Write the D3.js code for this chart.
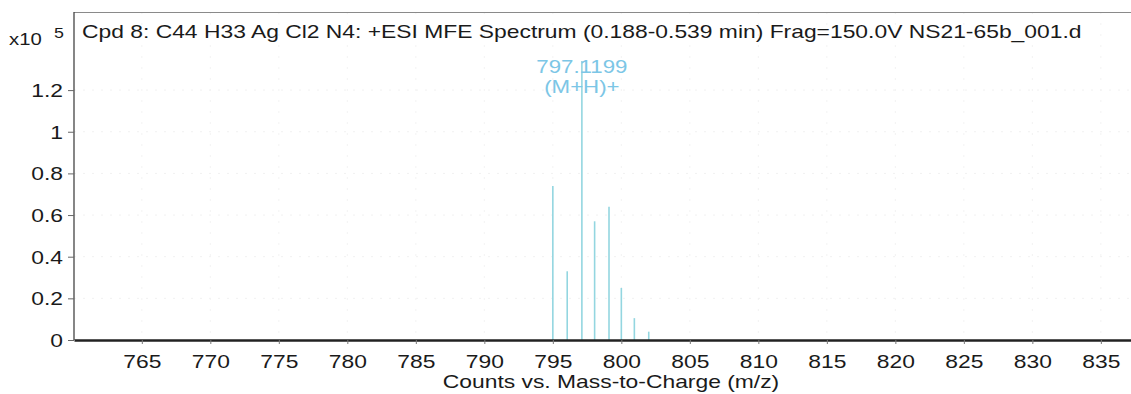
<!DOCTYPE html>
<html>
<head>
<meta charset="utf-8">
<script src="https://cdn.jsdelivr.net/npm/d3@7"></script>
<style>
  html, body { margin: 0; padding: 0; background: #fff; }
  svg { display: block; font-family: "Liberation Sans", Arial, sans-serif; }
</style>
</head>
<body>
<div id="chart"></div>
<script>
// peaks (m/z, counts x10^5)
const mzValues = [795.0, 796.05, 797.1199, 798.05, 799.1, 800.0, 800.95, 802.0];
const countValues = [0.74, 0.33, 1.34, 0.57, 0.64, 0.25, 0.105, 0.04];
const xTicks = [765, 770, 775, 780, 785, 790, 795, 800, 805, 810, 815, 820, 825, 830, 835];
const yTicks = [0, 0.2, 0.4, 0.6, 0.8, 1, 1.2];
const yTickLabels = ["0", "0.2", "0.4", "0.6", "0.8", "1", "1.2"];
const titleText = "Cpd 8: C44 H33 Ag Cl2 N4: +ESI MFE Spectrum (0.188-0.539 min) Frag=150.0V NS21-65b_001.d";
const peakLabel = ["797.1199", "(M+H)+"];
const xLabel = "Counts vs. Mass-to-Charge (m/z)";

const width = 1131, height = 394;
const margin = { top: 12, right: 0, bottom: 54, left: 74 };
const sx = 1.27; // the scan is stretched sideways, so text is too
const fs = 18;

const svg = d3.select("#chart").append("svg")
  .attr("width", width)
  .attr("height", height);

const x = d3.scaleLinear()
  .domain([760.05, 837.2])
  .range([margin.left, width - margin.right]);

const y = d3.scaleLinear()
  .domain([0, 1.575])
  .range([height - margin.bottom, margin.top]);

// stretched text helper
function label(tx, ty, str, opts = {}) {
  return svg.append("text")
    .attr("transform", `translate(${tx},${ty}) scale(${sx},1)`)
    .attr("text-anchor", opts.anchor || "start")
    .attr("font-size", opts.size || fs)
    .attr("fill", opts.fill || "#1a1a1a")
    .text(str);
}

// faint dotted grid
const grid = svg.append("g");
grid.selectAll("line.hg")
  .data(yTicks.slice(1))
  .join("line")
  .attr("x1", margin.left).attr("x2", width)
  .attr("y1", d => y(d)).attr("y2", d => y(d))
  .attr("stroke", "#f1f1f1")
  .attr("stroke-dasharray", "2,7");
grid.selectAll("line.vg")
  .data(xTicks)
  .join("line")
  .attr("x1", d => x(d)).attr("x2", d => x(d))
  .attr("y1", margin.top).attr("y2", y(0))
  .attr("stroke", "#f3f3f3")
  .attr("stroke-dasharray", "2,9");

// top border
svg.append("line")
  .attr("x1", margin.left).attr("x2", width)
  .attr("y1", margin.top + 0.5).attr("y2", margin.top + 0.5)
  .attr("stroke", "#8a8a8a")
  .attr("stroke-width", 1.2);

// peaks
svg.append("g").selectAll("line")
  .data(mzValues.map((m, i) => ({ m, c: countValues[i] })))
  .join("line")
  .attr("x1", d => x(d.m)).attr("x2", d => x(d.m))
  .attr("y1", y(0)).attr("y2", d => y(d.c))
  .attr("stroke", "#93d6e0")
  .attr("stroke-width", 1.6);

// y axis
const yAxis = svg.append("g")
  .attr("transform", `translate(${margin.left},0)`)
  .call(d3.axisLeft(y).tickValues(yTicks).tickFormat((d, i) => yTickLabels[i]).tickSize(6).tickSizeOuter(0));
yAxis.select(".domain").attr("stroke", "#444").attr("stroke-width", 1.3)
  .attr("d", `M0,${margin.top}V${y(0)}`);
yAxis.selectAll(".tick line").attr("stroke", "#666");
yAxis.selectAll(".tick text")
  .attr("font-size", fs)
  .attr("fill", "#1a1a1a")
  .attr("x", -11 / sx)
  .attr("dy", "0.35em")
  .attr("transform", `scale(${sx},1)`)
  .attr("font-family", "Liberation Sans, Arial, sans-serif");

// x axis
const xAxis = svg.append("g")
  .attr("transform", `translate(0,${y(0)})`)
  .call(d3.axisBottom(x).tickValues(xTicks).tickSize(4).tickSizeOuter(0));
xAxis.select(".domain").attr("stroke", "#222").attr("stroke-width", 2.4);
xAxis.selectAll(".tick line").attr("stroke", "#777");
xAxis.selectAll(".tick text")
  .attr("font-size", fs)
  .attr("fill", "#1a1a1a")
  .attr("y", 28)
  .attr("dy", 0)
  .attr("transform", `scale(${sx},1)`)
  .attr("font-family", "Liberation Sans, Arial, sans-serif");

// axis multiplier
label(9, 45, "x10", { size: 16 });
label(54, 38, "5", { size: 14 });

// title
label(82, 38, titleText);

// peak annotation
const pk = x(mzValues[2]);
label(pk, 73, peakLabel[0], { anchor: "middle", fill: "#7cc6e6", size: 17.5 });
label(pk, 93, peakLabel[1], { anchor: "middle", fill: "#7cc6e6", size: 17.5 });

// x label
label(611, 388, xLabel, { anchor: "middle" });
</script>
</body>
</html>
